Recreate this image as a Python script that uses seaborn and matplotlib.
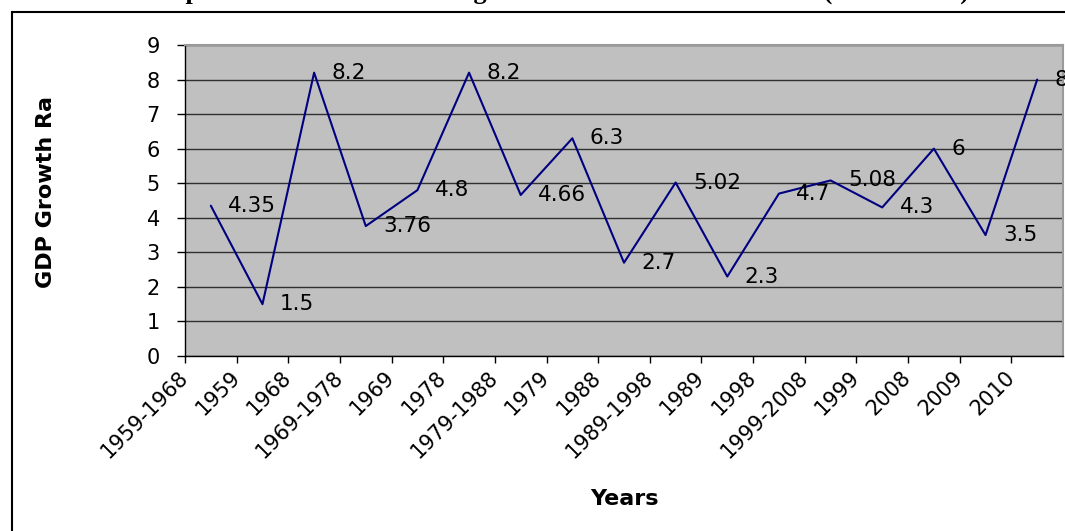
import numpy as np
import pandas as pd
import matplotlib.pyplot as plt
import seaborn as sns
from matplotlib.patches import Rectangle
from matplotlib.transforms import Bbox, TransformedBbox

# GDP growth rate series
periods = ["1959-1968", "1959", "1968", "1969-1978", "1969", "1978",
           "1979-1988", "1979", "1988", "1989-1998", "1989", "1998",
           "1999-2008", "1999", "2008", "2009", "2010"]
growth = [4.35, 1.5, 8.2, 3.76, 4.8, 8.2, 4.66, 6.3, 2.7, 5.02, 2.3,
          4.7, 5.08, 4.3, 6, 3.5, 8]
value_labels = ["4.35", "1.5", "8.2", "3.76", "4.8", "8.2", "4.66", "6.3",
                "2.7", "5.02", "2.3", "4.7", "5.08", "4.3", "6", "3.5", "8"]
y_ticks = [0, 1, 2, 3, 4, 5, 6, 7, 8, 9]

df = pd.DataFrame({"pos": np.arange(len(growth)) + 0.5, "growth": growth})

sns.set_style("white")
plt.rcParams["font.family"] = ["DejaVu Sans"]
plt.rcParams["text.color"] = "black"

W, H = 1065, 531
fig = plt.figure(figsize=(W / 100, H / 100), dpi=100)
ax = fig.add_axes([185 / W, 1 - 356 / H, (1063 - 185) / W, (356 - 45) / H])

ax.set_facecolor("#C0C0C0")
sns.lineplot(data=df, x="pos", y="growth", color="#000080", linewidth=1.5, ax=ax)

# data labels to the right of each point
for x, y, lab in zip(df["pos"], df["growth"], value_labels):
    ax.annotate(lab, (x, y), xytext=(12.5, 0), textcoords="offset points",
                ha="left", va="center", fontsize=15.5, color="black")

ax.set_xlim(0, len(growth))
ax.set_ylim(0, 9)
ax.set_yticks(y_ticks)
ax.set_xticks(np.arange(len(periods)))
ax.set_xticklabels(periods, rotation=45, ha="right", va="center",
                   rotation_mode="anchor")
ax.tick_params(axis="y", direction="out", length=6, width=1, pad=12,
               labelsize=15, left=True, colors="black")
ax.tick_params(axis="x", direction="out", length=5, width=1, pad=8,
               labelsize=15, bottom=True, colors="black")
ax.set_xlabel("")
ax.set_ylabel("")

ax.yaxis.grid(True, color="#303030", linewidth=1.0)
ax.xaxis.grid(False)
ax.set_axisbelow(True)
for side in ["left", "bottom"]:
    ax.spines[side].set_color("black")
    ax.spines[side].set_linewidth(1.0)
for side in ["top", "right"]:
    ax.spines[side].set_color("#9a9a9a")
    ax.spines[side].set_linewidth(1.5)

# axis titles (the y title is cut off in the original)
ylab = fig.text(46 / W, 1 - 288 / H, "GDP Growth Rate", rotation=90,
                ha="center", va="bottom", fontsize=16, fontweight="bold",
                color="black")
ylab.set_clip_box(TransformedBbox(Bbox([[0, 0], [1, 1 - 98 / H]]), fig.transFigure))
ylab.set_clip_on(True)
fig.text(624 / W, 1 - 499 / H, "Years", ha="center", va="center",
         fontsize=16, fontweight="bold", color="black")

# title, mostly cut off at the top edge
fig.text(140 / W, 1 + 1 / H,
         "Graph 1: Movement of the Nigerian Real GDP Growth Rate (1959 - 2010)",
         ha="left", va="baseline", fontsize=19, fontweight="bold",
         fontfamily="Liberation Serif", color="black")

# outer chart frame
fig.patches.append(Rectangle((12 / W, -0.5), 2.0, 0.5 + 1 - 12 / H,
                             transform=fig.transFigure, fill=False,
                             edgecolor="black", linewidth=1.5))

fig.savefig("out.png", dpi=100)
